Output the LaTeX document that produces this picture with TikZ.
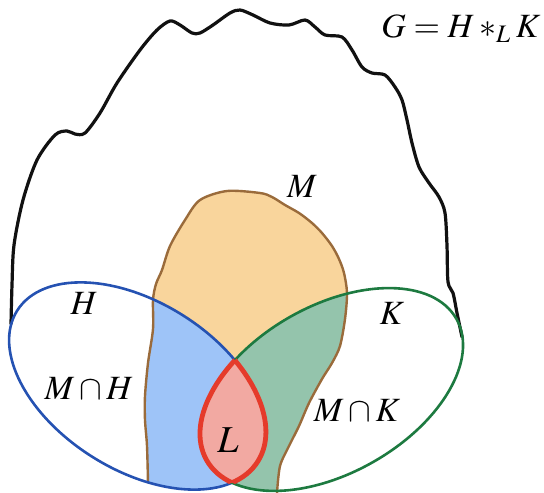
\documentclass[tikz,border=0pt]{standalone}
\usepackage{mathptmx}
\usetikzlibrary{positioning}
\definecolor{groupline}{HTML}{111111}
\definecolor{mfill}{HTML}{F9D59C}
\definecolor{mline}{HTML}{9A6B3B}
\definecolor{hfill}{HTML}{9EC4F8}
\definecolor{hline}{HTML}{2552B2}
\definecolor{kfill}{HTML}{94C4AC}
\definecolor{kline}{HTML}{1D7A40}
\definecolor{lfill}{HTML}{F2A9A2}
\definecolor{lline}{HTML}{E53B2B}
\newcommand{\outlineM}{plot[smooth] coordinates {(148,483) (147,446) (145,420) (145,396) (148,363) (153,329) (153,300) (156,284) (162,270) (170,246) (185,220) (200,200) (227,191) (260,193) (272,197) (285,205) (299,213) (312,223) (322,233) (332,246) (339,259) (344,273) (347,293) (345,319) (340,346) (332,363) (322,379) (309,403) (299,426) (289,446) (280,466) (277,493)}}
\newcommand{\regionM}{\outlineM -- (277,530) -- (148,530) -- cycle}
\newcommand{\ellH}{(137.5,386) ellipse [x radius=142, y radius=84, rotate=-32]}
\newcommand{\ellK}{(331.5,389.5) ellipse [x radius=143.5, y radius=83.6, rotate=29.5]}
\begin{document}
\begin{tikzpicture}[
        x=0.5pt, y=-0.5pt,
        outerline/.style={line width=1.6pt, groupline, line join=round, line cap=round},
        subline/.style={line width=1.2pt, mline, line join=round},
        hedge/.style={line width=1.3pt, hline},
        kedge/.style={line width=1.3pt, kline},
        ledge/.style={line width=2.4pt, lline},
        setlabel/.style={inner sep=0pt, font=\fontsize{17}{20}\selectfont}
    ]
    \useasboundingbox (0,0) rectangle (544,492);

    \draw[outerline] plot[smooth] coordinates {(11,324) (12,285) (14,245) (23,200) (37,160) (55,135) (67,131) (75,134) (85,133) (100,113) (117,83) (140,50) (157,30) (170,21) (180,25) (192,33) (200,33) (213,25) (230,13) (240,10) (253,15) (270,23) (289,25) (305,20) (315,27) (325,35) (342,37) (352,50) (362,67) (372,73) (385,75) (395,87) (402,100) (407,120) (412,143) (419,167) (429,183) (439,197) (445,213) (447,246) (448,282) (453,293) (457,313) (462,337)};

    \begin{scope}
        \clip \regionM;
        \fill[mfill] (0,0) rectangle (544,450);
        \fill[hfill] \ellH;
        \fill[kfill] \ellK;
    \end{scope}
    \begin{scope}
        \clip \ellH;
        \fill[lfill] \ellK;
    \end{scope}

    \draw[subline] \outlineM;
    \draw[hedge] \ellH;
    \draw[kedge] \ellK;

    \begin{scope}
        \clip \ellH;
        \draw[ledge] \ellK;
    \end{scope}
    \begin{scope}
        \clip \ellK;
        \draw[ledge] \ellH;
    \end{scope}

    \node[setlabel] (glabel) at (461,29) {$G = H \ast_L K$};
    \node[setlabel] (mlabel) at (302,186) {$M$};
    \node[setlabel] (hlabel) at (84,303) {$H$};
    \node[setlabel] (klabel) at (392,313) {$K$};
    \node[setlabel] (mhlabel) at (89,388) {$M \cap H$};
    \node[setlabel] (mklabel) at (357,410) {$M \cap K$};
    \node[setlabel, font=\fontsize{19}{22}\selectfont] (llabel) at (228,440) {$L$};
\end{tikzpicture}
\end{document}
